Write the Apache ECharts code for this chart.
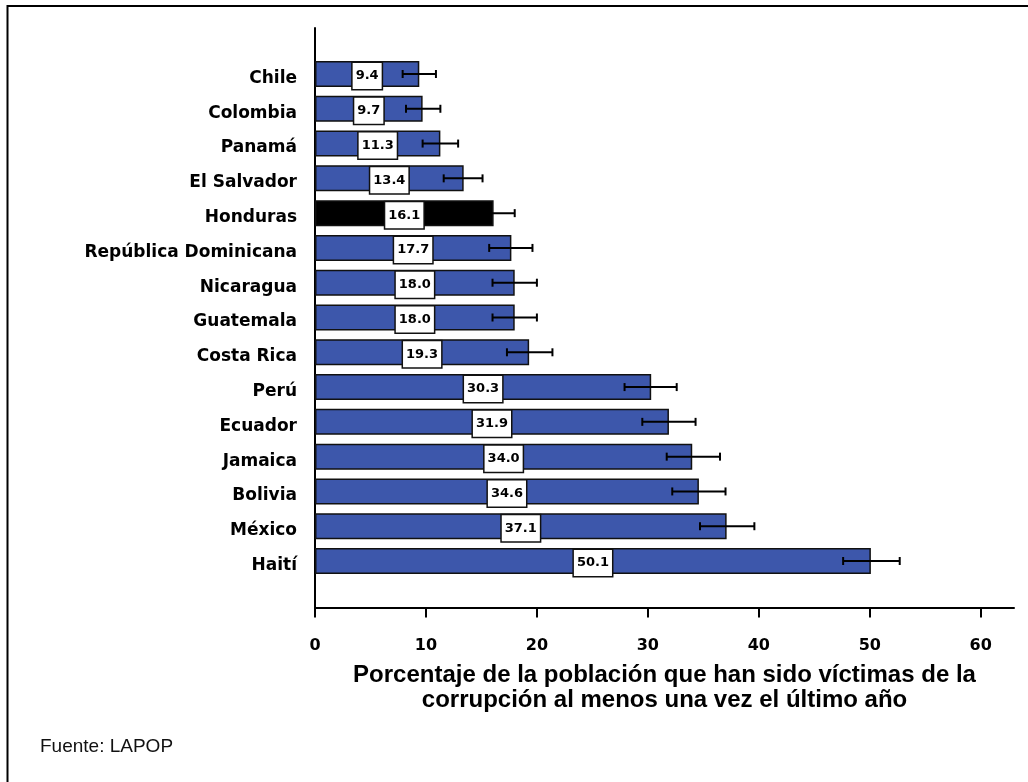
<!DOCTYPE html>
<html>
<head>
<meta charset="utf-8">
<script src="https://cdn.jsdelivr.net/npm/echarts@6/dist/echarts.min.js"></script>
<style>
html, body { margin: 0; padding: 0; background: #fff; }
#chart { width: 1028px; height: 782px; }
</style>
</head>
<body>
<div id="chart"></div>
<script>
// datos (LAPOP)
var countries = ['Chile', 'Colombia', 'Panamá', 'El Salvador', 'Honduras', 'República Dominicana',
  'Nicaragua', 'Guatemala', 'Costa Rica', 'Perú', 'Ecuador', 'Jamaica', 'Bolivia', 'México', 'Haití'];
var values = [9.4, 9.7, 11.3, 13.4, 16.1, 17.7, 18.0, 18.0, 19.3, 30.3, 31.9, 34.0, 34.6, 37.1, 50.1];
var lowErr = [7.9, 8.2, 9.7, 11.6, 14.2, 15.7, 16.0, 16.0, 17.3, 27.9, 29.5, 31.7, 32.2, 34.7, 47.6];
var highErr = [10.9, 11.3, 12.9, 15.1, 18.0, 19.6, 20.0, 20.0, 21.4, 32.6, 34.3, 36.5, 37.0, 39.6, 52.7];
var xTicks = [0, 10, 20, 30, 40, 50, 60];
var highlight = 'Honduras';

var blue = '#3d57ab';
var boldFont = 'DejaVu Sans';

function renderErrorBar(params, api) {
  var cat = api.value(0);
  var lo = api.coord([api.value(1), cat]);
  var hi = api.coord([api.value(2), cat]);
  var h = 4;
  var style = { stroke: '#000', lineWidth: 2 };
  return {
    type: 'group',
    children: [
      { type: 'line', shape: { x1: lo[0], y1: lo[1], x2: hi[0], y2: hi[1] }, style: style },
      { type: 'line', shape: { x1: lo[0], y1: lo[1] - h, x2: lo[0], y2: lo[1] + h }, style: style },
      { type: 'line', shape: { x1: hi[0], y1: hi[1] - h, x2: hi[0], y2: hi[1] + h }, style: style }
    ]
  };
}

var chart = echarts.init(document.getElementById('chart'), null, { renderer: 'canvas' });

var option = {
  backgroundColor: '#fff',
  animation: false,
  title: {
    text: 'Fuente: LAPOP',
    left: 35,
    top: 732,
    textStyle: { fontFamily: 'Liberation Sans', fontWeight: 'normal', fontSize: 19, color: '#111' }
  },
  graphic: [{
    type: 'rect',
    shape: { x: 7.5, y: 6, width: 1100, height: 1000 },
    style: { fill: null, stroke: '#000', lineWidth: 2 },
    silent: true
  }],
  grid: [
    // barras
    { left: 315, right: 14, top: 56.6, bottom: 203.6 },
    // ejes
    { left: 315, right: 14, top: 28, bottom: 174.5 }
  ],
  xAxis: [
    { gridIndex: 0, type: 'value', min: 0, max: 63, show: false },
    {
      gridIndex: 1,
      type: 'value',
      min: 0,
      max: 63,
      interval: 10,
      splitLine: { show: false },
      axisLine: { lineStyle: { color: '#000', width: 2 } },
      axisTick: { customValues: xTicks, length: 10, lineStyle: { color: '#000', width: 2 } },
      axisLabel: {
        customValues: xTicks,
        margin: 30,
        color: '#000',
        fontFamily: boldFont,
        fontWeight: 'bold',
        fontSize: 16
      },
      name: 'Porcentaje de la población que han sido víctimas de la\ncorrupción al menos una vez el último año',
      nameLocation: 'middle',
      nameGap: 55,
      nameTextStyle: {
        color: '#000',
        fontFamily: 'Liberation Sans',
        fontWeight: 'bold',
        fontSize: 24,
        lineHeight: 25,
        verticalAlign: 'top'
      }
    }
  ],
  yAxis: [
    {
      gridIndex: 0,
      type: 'category',
      inverse: true,
      data: countries,
      axisLine: { show: false },
      axisTick: { alignWithLabel: true, length: 11, lineStyle: { color: '#000', width: 2 } },
      axisLabel: {
        margin: 18,
        color: '#000',
        fontFamily: boldFont,
        fontWeight: 'bold',
        fontSize: 17,
        verticalAlign: 'top',
        lineHeight: 9
      }
    },
    {
      gridIndex: 1,
      type: 'value',
      min: 0,
      max: 1,
      splitLine: { show: false },
      axisTick: { show: false },
      axisLabel: { show: false },
      axisLine: { show: true, lineStyle: { color: '#000', width: 2 } }
    }
  ],
  series: [
    {
      type: 'bar',
      xAxisIndex: 0,
      yAxisIndex: 0,
      barWidth: 26,
      data: values.map(function (v, i) {
        var item = { value: v };
        if (countries[i] === highlight) item.itemStyle = { color: '#000' };
        return item;
      }),
      itemStyle: { color: blue, borderColor: '#111', borderWidth: 1.5 },
      label: {
        show: true,
        position: 'inside',
        offset: [0, 2],
        formatter: function (p) { return p.value.toFixed(1); },
        color: '#000',
        fontFamily: boldFont,
        fontWeight: 'bold',
        fontSize: 13,
        lineHeight: 15,
        backgroundColor: '#fff',
        borderColor: '#111',
        borderWidth: 1.5,
        padding: [6, 3, 5, 3]
      }
    },
    {
      type: 'custom',
      xAxisIndex: 0,
      yAxisIndex: 0,
      renderItem: renderErrorBar,
      encode: { x: [1, 2], y: 0 },
      data: countries.map(function (c, i) { return [i, lowErr[i], highErr[i]]; }),
      z: 3
    }
  ]
};

chart.setOption(option);
</script>
</body>
</html>
